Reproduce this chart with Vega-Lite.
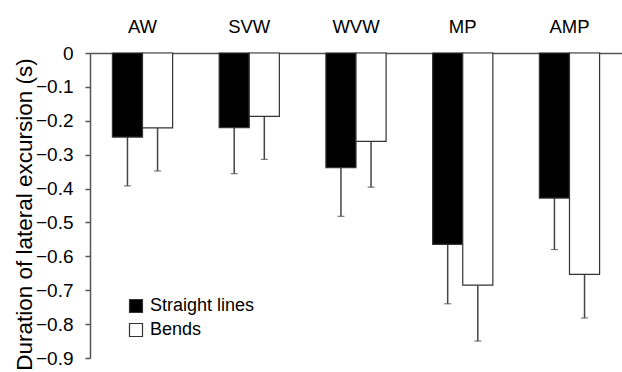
{
  "$schema": "https://vega.github.io/schema/vega-lite/v6.json",
  "width": 532,
  "height": 305,
  "autosize": {"type": "none"},
  "padding": {"left": 90, "top": 53, "right": 0, "bottom": 14},
  "background": "white",
  "config": {
    "view": {"stroke": null},
    "font": "Liberation Sans",
    "axis": {"grid": false, "domainColor": "#555", "tickColor": "#555", "labelColor": "#000", "titleColor": "#000"},
    "axisY": {"labelOverlap": false, "labelBound": false, "labelFlush": false, "labelFontSize": 19, "labelPadding": 12, "tickSize": 5, "tickWidth": 1.5, "domainWidth": 1.5}
  },
  "data": {
    "values": [
      {"group": "AW", "type": "Straight lines", "value": -0.248, "err": -0.392},
      {"group": "AW", "type": "Bends", "value": -0.221, "err": -0.348},
      {"group": "SVW", "type": "Straight lines", "value": -0.220, "err": -0.356},
      {"group": "SVW", "type": "Bends", "value": -0.187, "err": -0.314},
      {"group": "WVW", "type": "Straight lines", "value": -0.338, "err": -0.482},
      {"group": "WVW", "type": "Bends", "value": -0.261, "err": -0.396},
      {"group": "MP", "type": "Straight lines", "value": -0.565, "err": -0.740},
      {"group": "MP", "type": "Bends", "value": -0.685, "err": -0.850},
      {"group": "AMP", "type": "Straight lines", "value": -0.428, "err": -0.580},
      {"group": "AMP", "type": "Bends", "value": -0.653, "err": -0.782}
    ]
  },
  "encoding": {
    "x": {
      "field": "group", "type": "nominal", "sort": ["AW", "SVW", "WVW", "MP", "AMP"],
      "scale": {"paddingInner": 0.436, "paddingOuter": 0.21},
      "axis": {"orient": "top", "title": null, "ticks": false, "labelAngle": 0, "labelFontSize": 18.5, "labelPadding": 17, "domainWidth": 1.5}
    },
    "xOffset": {"field": "type", "type": "nominal", "sort": ["Straight lines", "Bends"], "scale": {"paddingInner": 0}},
    "y": {
      "field": "value", "type": "quantitative",
      "scale": {"domain": [-0.9, 0], "nice": false},
      "axis": {
        "title": "Duration of lateral excursion (s)", "titleFontSize": 22.5, "titleFontWeight": "normal",
        "titleAngle": -90, "titleAlign": "center", "titleBaseline": "alphabetic", "titleX": -59, "titleY": 161,
        "labelOverlap": false,
        "values": [0, -0.1, -0.2, -0.3, -0.4, -0.5, -0.6, -0.7, -0.8, -0.9],
        "labelExpr": "datum.value == 0 ? '0' : format(datum.value, '.1f')"
      }
    }
  },
  "layer": [
    {
      "mark": {"type": "rule", "color": "#444", "strokeWidth": 1.5},
      "encoding": {
        "y2": {"field": "err"}
      }
    },
    {
      "mark": {"type": "tick", "color": "#444", "size": 7, "thickness": 1.2},
      "encoding": {
        "y": {"field": "err", "type": "quantitative"}
      }
    },
    {
      "mark": {"type": "bar", "stroke": "#333", "strokeWidth": 1.2},
      "encoding": {
        "fill": {
          "field": "type", "type": "nominal",
          "scale": {"domain": ["Straight lines", "Bends"], "range": ["#000000", "#ffffff"]},
          "legend": {
            "title": null, "orient": "none", "legendX": 37, "legendY": 244,
            "symbolType": "square", "symbolSize": 169, "symbolStrokeColor": "#333", "symbolStrokeWidth": 1.2,
            "labelFontSize": 18, "labelColor": "#000", "rowPadding": 6, "labelOffset": 5, "padding": 0
          }
        }
      }
    }
  ]
}
